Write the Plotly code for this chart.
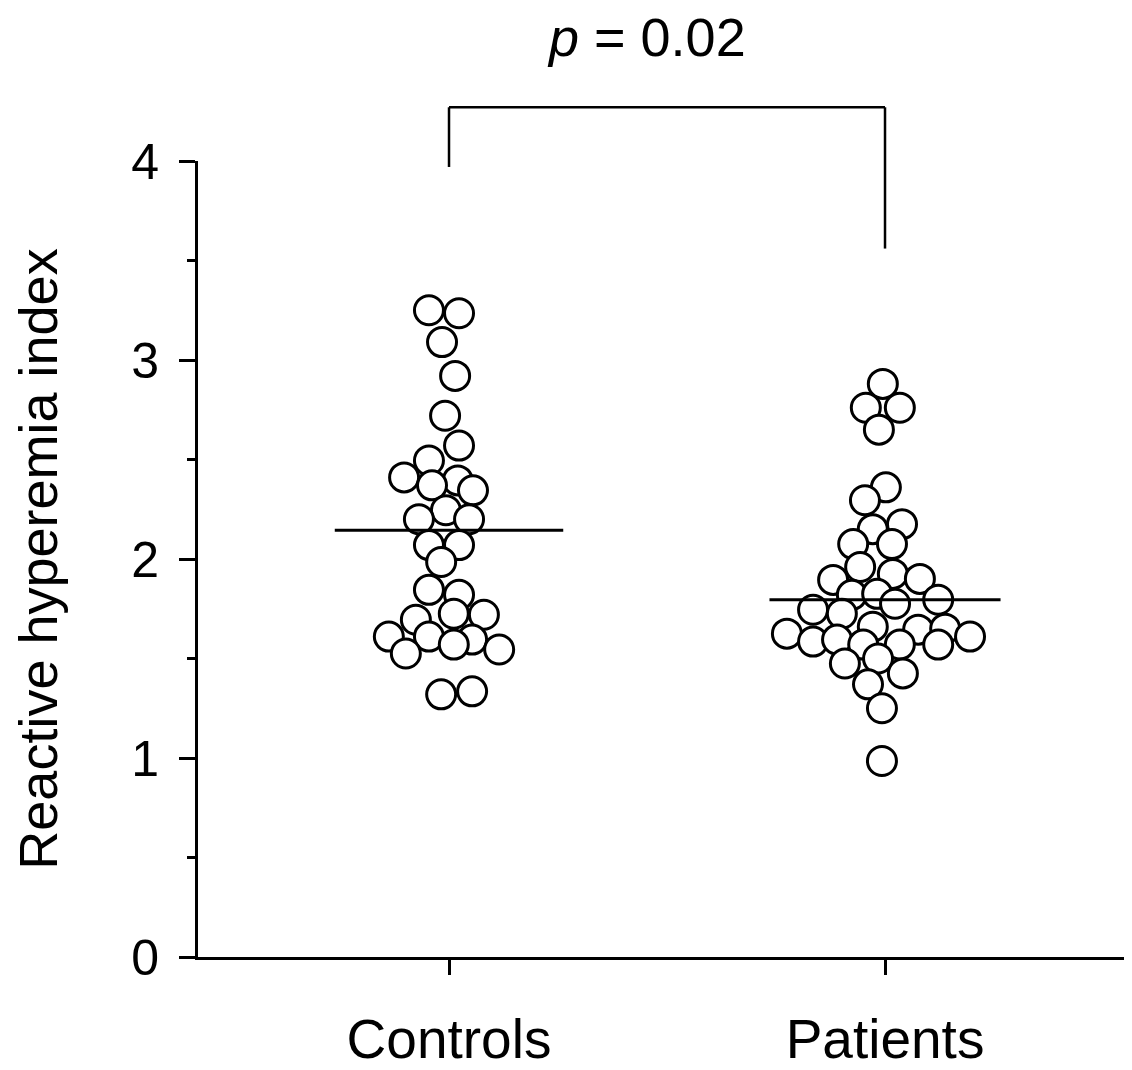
import plotly.graph_objects as go

# ---- data ----
categories = ["Controls", "Patients"]
cat_pos = [1, 2]

controls_values = [3.25, 3.235, 3.09, 2.92, 2.72, 2.57, 2.495, 2.41, 2.395, 2.37,
                   2.345, 2.245, 2.20, 2.20, 2.07, 2.07, 1.985, 1.845, 1.82, 1.725,
                   1.72, 1.695, 1.61, 1.61, 1.595, 1.57, 1.545, 1.525, 1.335, 1.32]
controls_offset = [-0.046, 0.023, -0.016, 0.014, -0.009, 0.023, -0.046, -0.103, 0.020, -0.039,
                   0.055, -0.007, -0.069, 0.046, -0.046, 0.023, -0.018, -0.046, 0.023, 0.011,
                   0.080, -0.076, -0.138, -0.046, 0.053, 0.011, 0.115, -0.099, 0.053, -0.018]

patients_values = [2.88, 2.76, 2.76, 2.65, 2.36, 2.295, 2.175, 2.15, 2.075, 2.075,
                   1.96, 1.925, 1.90, 1.895, 1.82, 1.825, 1.775, 1.795, 1.745, 1.725,
                   1.625, 1.585, 1.595, 1.66, 1.645, 1.65, 1.61, 1.57, 1.57, 1.57,
                   1.475, 1.50, 1.425, 1.37, 1.25, 0.985]
patients_offset = [-0.005, -0.044, 0.034, -0.014, 0.002, -0.046, 0.039, -0.028, -0.073, 0.016,
                   -0.057, 0.018, 0.080, -0.119, -0.076, -0.018, 0.023, 0.122, -0.165, -0.099,
                   -0.225, -0.165, -0.110, -0.028, 0.076, 0.138, 0.195, -0.050, 0.034, 0.122,
                   -0.092, -0.016, 0.041, -0.039, -0.007, -0.007]

group_means = [2.145, 1.795]
mean_halfwidth = [0.262, 0.265]

p_text = "<i>p</i> = 0.02"
bracket_top = 4.27
bracket_left_end = 3.97
bracket_right_end = 3.56
p_label_level = 4.625

y_ticks = [0, 1, 2, 3, 4]
y_range = [0, 4]
x_range = [0.4243, 2.5665]

# ---- figure ----
fig = go.Figure()

marker_style = dict(symbol="circle", size=29, color="white",
                    line=dict(color="black", width=3))

for pos, vals, offs in [(cat_pos[0], controls_values, controls_offset),
                        (cat_pos[1], patients_values, patients_offset)]:
    fig.add_trace(go.Scatter(
        x=[pos + o for o in offs], y=vals, mode="markers",
        marker=marker_style, showlegend=False, hoverinfo="y"))

for pos, m, hw in zip(cat_pos, group_means, mean_halfwidth):
    fig.add_trace(go.Scatter(
        x=[pos - hw, pos + hw], y=[m, m], mode="lines",
        line=dict(color="black", width=3), showlegend=False, hoverinfo="skip"))


def to_paper(v):
    return (v - y_range[0]) / (y_range[1] - y_range[0])


bracket_style = dict(color="black", width=2.5)
fig.add_shape(type="line", xref="x", yref="paper", x0=cat_pos[0], x1=cat_pos[0],
              y0=to_paper(bracket_left_end), y1=to_paper(bracket_top), line=bracket_style)
fig.add_shape(type="line", xref="x", yref="paper", x0=cat_pos[0], x1=cat_pos[1],
              y0=to_paper(bracket_top), y1=to_paper(bracket_top), line=bracket_style)
fig.add_shape(type="line", xref="x", yref="paper", x0=cat_pos[1], x1=cat_pos[1],
              y0=to_paper(bracket_right_end), y1=to_paper(bracket_top), line=bracket_style)

fig.add_annotation(text=p_text, xref="x", yref="paper",
                   x=(cat_pos[0] + cat_pos[1]) / 2 - 0.0465, y=to_paper(p_label_level),
                   showarrow=False, xanchor="center", yanchor="middle", borderpad=0,
                   font=dict(family="Liberation Sans, Arial, sans-serif", size=54, color="black"))

fig.update_layout(
    width=1124, height=1062,
    margin=dict(l=190, r=0, t=153, b=108),
    paper_bgcolor="white", plot_bgcolor="white",
    xaxis=dict(range=x_range, tickmode="array", tickvals=cat_pos, ticktext=categories,
               showline=True, linecolor="black", linewidth=3,
               ticks="outside", ticklen=15, tickwidth=3, tickcolor="black",
               showgrid=False, zeroline=False,
               tickfont=dict(family="Liberation Sans, Arial, sans-serif", size=55, color="black"),
               ticklabelstandoff=17),
    yaxis=dict(range=y_range, tickmode="array", tickvals=y_ticks,
               showline=True, linecolor="black", linewidth=3,
               ticks="outside", ticklen=16, tickwidth=3, tickcolor="black",
               minor=dict(dtick=0.5, tick0=0, ticks="outside", ticklen=8, tickwidth=3,
                          tickcolor="black", showgrid=False),
               showgrid=False, zeroline=False,
               tickfont=dict(family="Liberation Sans Narrow, Arial Narrow, Liberation Sans, sans-serif",
                             size=50, color="black"),
               ticklabelstandoff=10,
               title=dict(text="Reactive hyperemia index", standoff=76,
                          font=dict(family="Liberation Sans, Arial, sans-serif", size=54, color="black"))),
)

fig.write_html("out.html")
